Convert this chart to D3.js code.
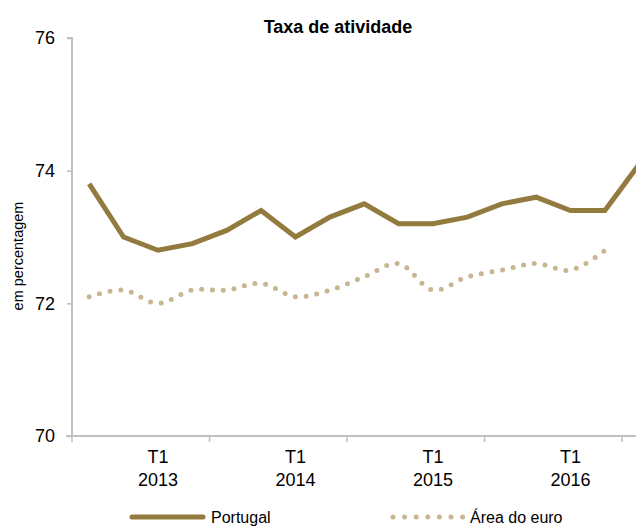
<!DOCTYPE html>
<html><head><meta charset="utf-8">
<script src="https://cdn.jsdelivr.net/npm/d3@7"></script>
<style>
body{margin:0;background:#fff;overflow:hidden}
text{font-family:"Liberation Sans",Arial,sans-serif;fill:#000}
</style></head>
<body><svg id="c" width="636" height="527"></svg>
<script>
const categories = ["2012 T3","2012 T4","2013 T1","2013 T2","2013 T3","2013 T4","2014 T1","2014 T2","2014 T3","2014 T4","2015 T1","2015 T2","2015 T3","2015 T4","2016 T1","2016 T2","2016 T3"];
const portugal = [73.8,73.0,72.8,72.9,73.1,73.4,73.0,73.3,73.5,73.2,73.2,73.3,73.5,73.6,73.4,73.4,74.1];
const euro = [72.1,72.2,72.0,72.2,72.2,72.3,72.1,72.2,72.4,72.6,72.2,72.4,72.5,72.6,72.5,72.8];
const yTicks = [70,72,74,76];
const xLabels = [{cat:"2013 T1",l1:"T1",l2:"2013"},{cat:"2014 T1",l1:"T1",l2:"2014"},{cat:"2015 T1",l1:"T1",l2:"2015"},{cat:"2016 T1",l1:"T1",l2:"2016"}];

const svg = d3.select("#c");
const mLeft = 72, mTop = 38, mBottom = 436;
const bw = 34.38;
const x = d3.scaleBand().domain(categories).range([mLeft, mLeft + bw*categories.length]).padding(0);
const y = d3.scaleLinear().domain([70,76]).range([mBottom, mTop]);
const axisCol = "#c0c0c0";

// y axis
const ya = svg.append("g").attr("transform",`translate(${mLeft},0)`)
  .call(d3.axisLeft(y).tickValues(yTicks).tickSize(5).tickPadding(12).tickFormat(d3.format("d")));
ya.select(".domain").attr("stroke",axisCol).attr("stroke-width",2).attr("d",`M-5,${mTop}H0V${mBottom}`);
ya.selectAll(".tick line").attr("stroke",axisCol).attr("stroke-width",1.5);
ya.selectAll(".tick text").attr("font-size",18).attr("font-family","'Liberation Sans',Arial,sans-serif").attr("fill","#000");

// x axis line
const xEnd = 700;
svg.append("line").attr("x1",mLeft-6).attr("x2",xEnd).attr("y1",mBottom).attr("y2",mBottom).attr("stroke",axisCol).attr("stroke-width",2);
// x tick marks every 4 categories at band boundaries
const tickIdx = categories.map((c,i)=>i).filter(i=>i%4===0);
svg.selectAll(".xt").data(tickIdx).join("line")
  .attr("x1",i=>x(categories[i])).attr("x2",i=>x(categories[i]))
  .attr("y1",mBottom).attr("y2",mBottom+6).attr("stroke",axisCol).attr("stroke-width",1.5);
const xl = svg.selectAll(".xl").data(xLabels).join("text")
  .attr("text-anchor","middle").attr("font-size",18)
  .attr("x",d=>x(d.cat)+x.bandwidth()/2);
xl.append("tspan").attr("x",d=>x(d.cat)+x.bandwidth()/2).attr("y",463).text(d=>d.l1);
xl.append("tspan").attr("x",d=>x(d.cat)+x.bandwidth()/2).attr("y",486).text(d=>d.l2);

// lines
const cx = (i)=>x(categories[i])+x.bandwidth()/2;
const lineEuro = d3.line().x((d,i)=>cx(i)).y(d=>y(d)).curve(d3.curveCatmullRom.alpha(0.5));
svg.append("path").datum(euro).attr("d",lineEuro).attr("fill","none")
  .attr("stroke","#c8b591").attr("stroke-width",5).attr("stroke-linecap","round").attr("stroke-dasharray","0 10.8");
const linePt = d3.line().x((d,i)=>cx(i)).y(d=>y(d));
svg.append("path").datum(portugal).attr("d",linePt).attr("fill","none")
  .attr("stroke","#937a3e").attr("stroke-width",5).attr("stroke-linejoin","miter");

// title
svg.append("text").attr("x",338).attr("y",33).attr("text-anchor","middle")
  .attr("font-size",18).attr("font-weight","bold").text("Taxa de atividade");
// y label
svg.append("text").attr("transform","translate(23,256) rotate(-90)").attr("text-anchor","middle")
  .attr("font-size",14.5).text("em percentagem");

// legend
svg.append("line").attr("x1",132).attr("x2",203).attr("y1",517).attr("y2",517)
  .attr("stroke","#937a3e").attr("stroke-width",5).attr("stroke-linecap","round");
svg.append("text").attr("x",211).attr("y",523).attr("font-size",16).text("Portugal");
svg.append("line").attr("x1",393).attr("x2",463).attr("y1",517).attr("y2",517)
  .attr("stroke","#c8b591").attr("stroke-width",5).attr("stroke-linecap","round").attr("stroke-dasharray","0 11.6");
svg.append("text").attr("x",470).attr("y",523).attr("font-size",16).text("Área do euro");
</script></body></html>
